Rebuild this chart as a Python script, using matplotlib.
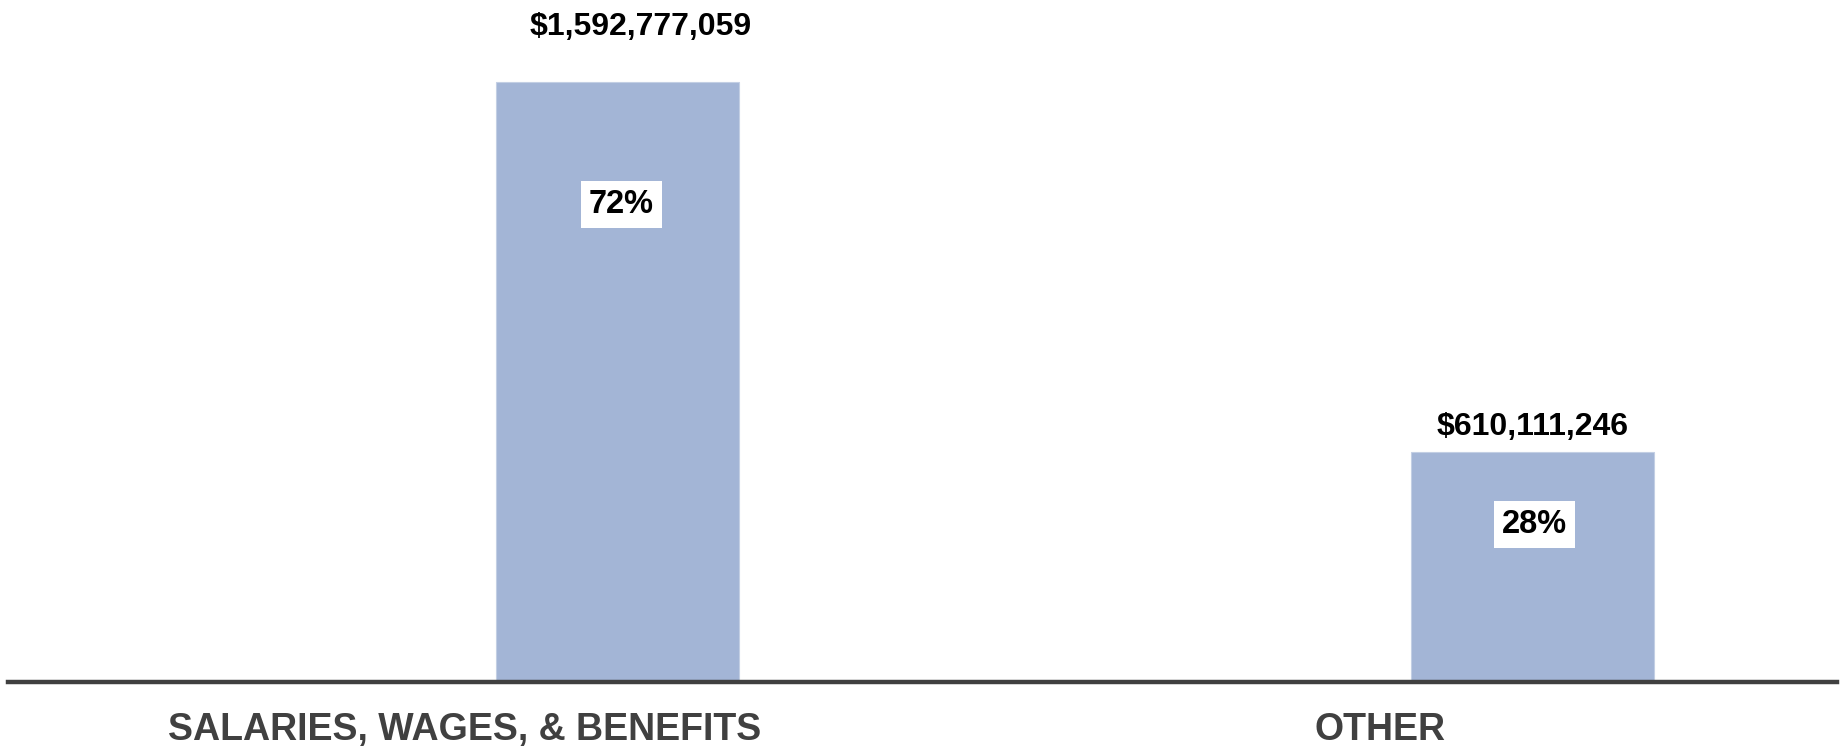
import matplotlib
matplotlib.use("Agg")
import matplotlib.pyplot as plt

categories = ["SALARIES, WAGES, & BENEFITS", "OTHER"]
values = [1592777059, 610111246]
value_labels = ["$1,592,777,059", "$610,111,246"]
pct_labels = ["72%", "28%"]

W, H = 1841, 747
DPI = 100
fig = plt.figure(figsize=(W / DPI, H / DPI), dpi=DPI)
fig.patch.set_facecolor("white")

# axes geometry in pixels
ax_left, ax_right = 8, 1837
base_y = 682
ax = fig.add_axes([ax_left / W, (H - base_y) / H, (ax_right - ax_left) / W, base_y / H])

font = "Liberation Sans"
bar_color = "#A3B5D6"
x = list(range(len(categories)))
bar_w = 0.2656
ax.bar(x, values, width=bar_w, color=bar_color, edgecolor="#C3CFE4", linewidth=0.8, zorder=2)

ax.set_xlim(-0.666, 1.3328)
ax.set_ylim(0, 1.8105e9)

for s in ["top", "right", "left"]:
    ax.spines[s].set_visible(False)
ax.spines["bottom"].set_color("#404040")
ax.spines["bottom"].set_linewidth(3.2)
ax.spines["bottom"].set_zorder(3)
ax.set_yticks([])

# category labels are offset left of bars
ax.set_xticks([i - 0.1667 for i in x])
ax.set_xticklabels(categories, fontfamily=font, fontweight="bold", fontsize=27, color="#404040")
ax.tick_params(axis="x", length=0, pad=21.5)

# value labels above bars (pixel offsets)
val_offsets = [(23.5, 47), (0, 17)]
for i, (v, lab) in enumerate(zip(values, value_labels)):
    dx, dy = val_offsets[i]
    ax.annotate(lab, (i, v), xytext=(dx * 72 / DPI, dy * 72 / DPI), textcoords="offset points",
                ha="center", va="baseline", fontfamily=font, fontweight="bold", fontsize=23,
                color="black", annotation_clip=False)

# percentage labels in white boxes
pct_offsets = [(4, -131), (2, -81)]
for i, (v, lab) in enumerate(zip(values, pct_labels)):
    dx, dy = pct_offsets[i]
    ax.annotate(lab, (i, v), xytext=(dx * 72 / DPI, dy * 72 / DPI), textcoords="offset points",
                ha="center", va="baseline", fontfamily=font, fontweight="bold", fontsize=23.5,
                color="black", zorder=4,
                bbox=dict(boxstyle="square,pad=0.25", facecolor="white", edgecolor="none"))

fig.savefig("out.png", dpi=DPI, facecolor="white")
